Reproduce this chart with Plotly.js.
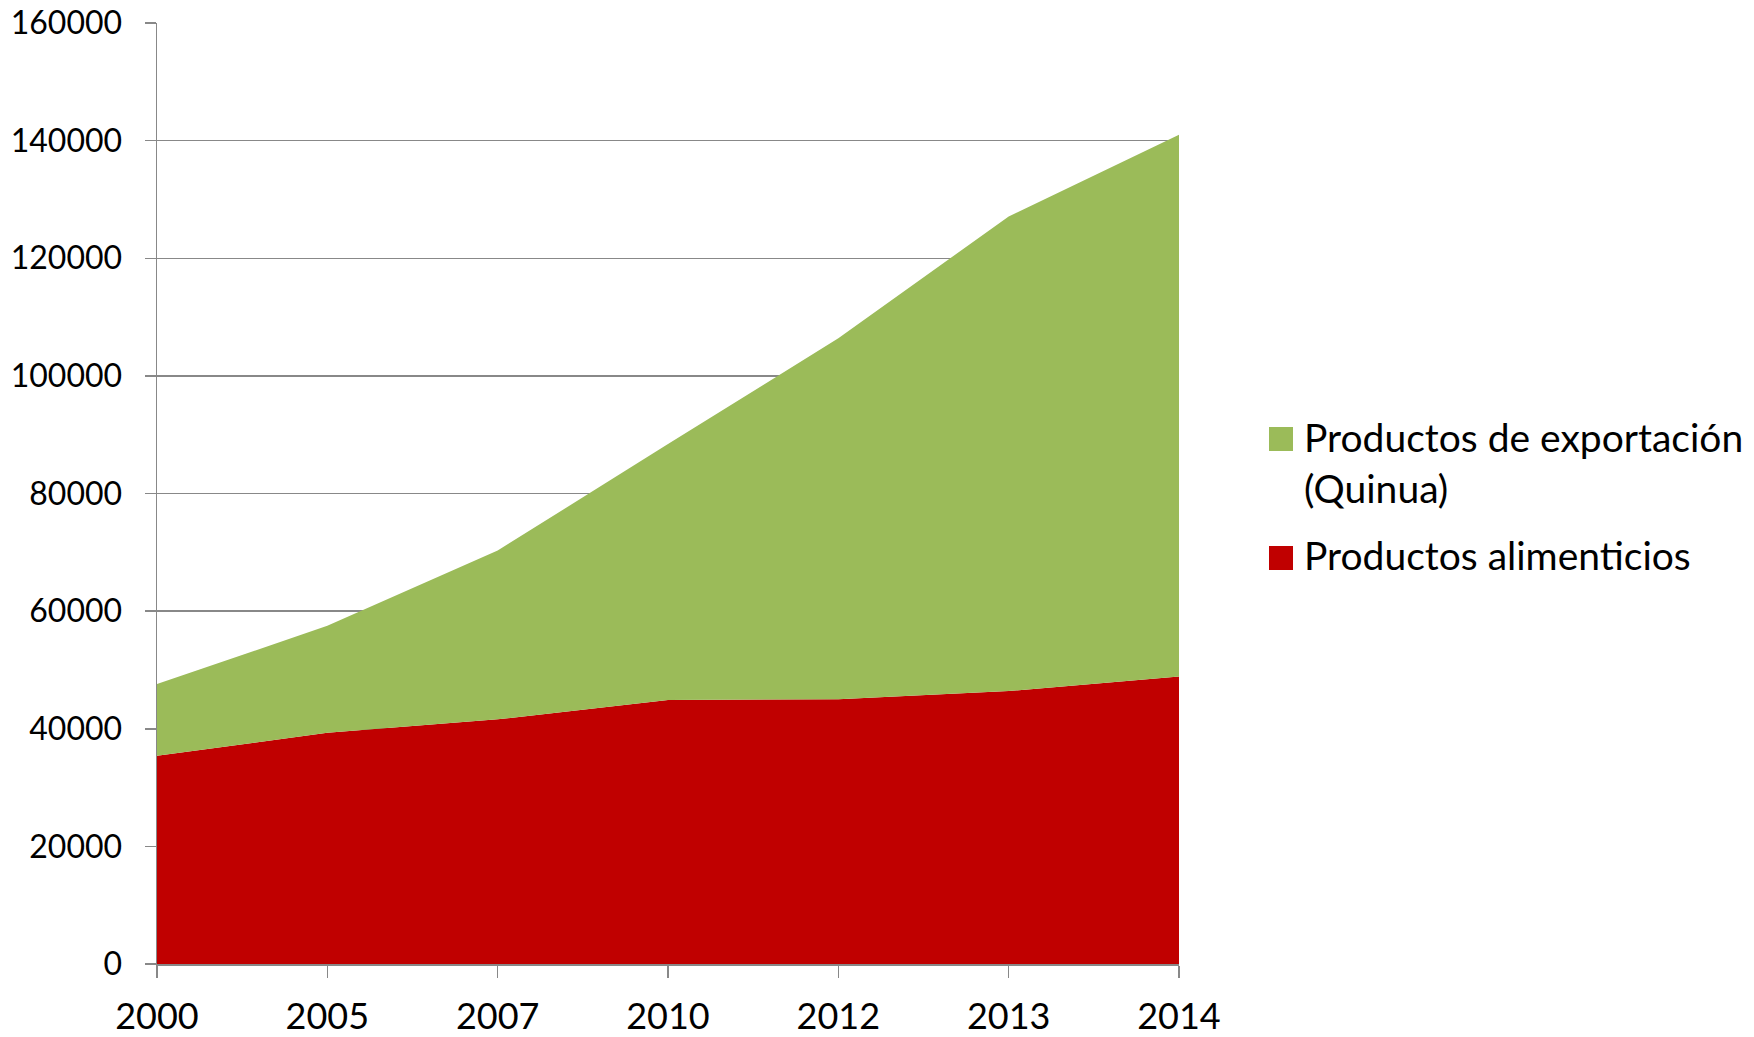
<!DOCTYPE html>
<html>
<head>
<meta charset="utf-8">
<script src="https://cdn.plot.ly/plotly-3.0.1.min.js"></script>
<style>html,body{margin:0;padding:0;background:#fff;}#chart{width:1754px;height:1037px;}</style>
</head>
<body>
<div id="chart"></div>
<script>
// Data
const years = ['2000', '2005', '2007', '2010', '2012', '2013', '2014'];
const alimenticios = [35400, 39300, 41600, 44900, 45000, 46400, 48900];
const quinua = [12200, 18200, 28700, 43500, 61400, 80700, 92100];
const seriesNames = ['Productos alimenticios', 'Productos de exportación', '(Quinua)'];
const yTicks = [0, 20000, 40000, 60000, 80000, 100000, 120000, 140000, 160000];

const RED = '#C00000';
const GREEN = '#9BBB59';
const GRID = '#888888';
const FONT = 'Lato, "Open Sans", sans-serif';

const W = 1754, H = 1037;
const M = {l: 157, r: 575, t: 23, b: 73};
const pw = W - M.l - M.r, ph = H - M.t - M.b;
const px = x => (x - M.l) / pw;
const py = y => (H - M.b - y) / ph;

const traces = [
  {x: years, y: alimenticios, name: seriesNames[0], type: 'scatter', mode: 'none',
   stackgroup: 'one', fillcolor: RED, hoverinfo: 'x+y'},
  {x: years, y: quinua, name: seriesNames[1] + ' ' + seriesNames[2], type: 'scatter', mode: 'none',
   stackgroup: 'one', fillcolor: GREEN, hoverinfo: 'x+y'}
];

const legFont = {family: FONT, size: 39, color: '#000'};
const layout = {
  width: W, height: H,
  margin: M,
  paper_bgcolor: '#fff', plot_bgcolor: '#fff',
  showlegend: false,
  xaxis: {
    type: 'category', range: [0, years.length - 1],
    showgrid: false, zeroline: false,
    showline: true, linecolor: GRID, linewidth: 1.5,
    ticks: 'outside', ticklen: 12, tickcolor: GRID, tickwidth: 1.5,
    tickfont: {family: FONT, size: 36, color: '#000'},
    ticklabelstandoff: 8
  },
  yaxis: {
    range: [0, 160000], tickvals: yTicks, ticktext: yTicks.map(String),
    showgrid: true, gridcolor: GRID, gridwidth: 1.5,
    zeroline: false,
    showline: true, linecolor: GRID, linewidth: 1.5,
    ticks: 'outside', ticklen: 11, tickcolor: GRID, tickwidth: 1.5,
    tickfont: {family: FONT, size: 32, color: '#000'},
    ticklabelstandoff: 16
  },
  shapes: [
    {type: 'rect', xref: 'paper', yref: 'paper', x0: px(1269), x1: px(1293), y0: py(451), y1: py(427),
     fillcolor: GREEN, line: {width: 0}},
    {type: 'rect', xref: 'paper', yref: 'paper', x0: px(1269), x1: px(1293), y0: py(570), y1: py(546),
     fillcolor: RED, line: {width: 0}}
  ],
  annotations: [
    {xref: 'paper', yref: 'paper', x: px(1302), y: py(437), xanchor: 'left', yanchor: 'middle',
     text: seriesNames[1], showarrow: false, font: legFont},
    {xref: 'paper', yref: 'paper', x: px(1302), y: py(488), xanchor: 'left', yanchor: 'middle',
     text: seriesNames[2], showarrow: false, font: legFont},
    {xref: 'paper', yref: 'paper', x: px(1302), y: py(555), xanchor: 'left', yanchor: 'middle',
     text: seriesNames[0], showarrow: false, font: legFont}
  ]
};

Plotly.newPlot('chart', traces, layout, {displayModeBar: false, staticPlot: true});
</script>
</body>
</html>
